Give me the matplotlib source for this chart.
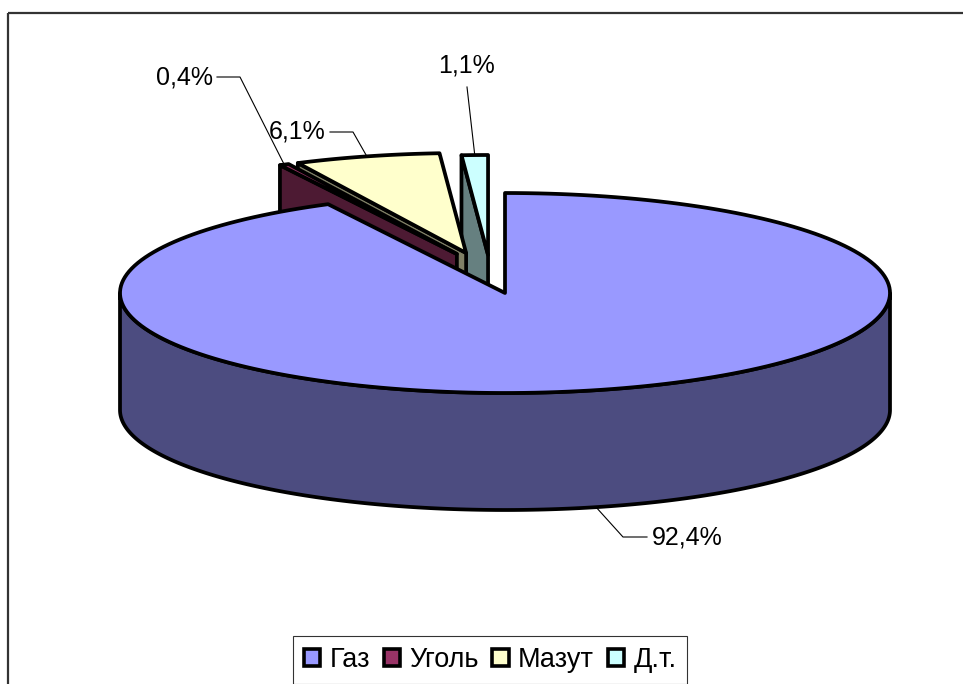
import numpy as np
import matplotlib
matplotlib.use("Agg")
import matplotlib.pyplot as plt
from matplotlib.patches import Polygon, Rectangle, Patch

plt.rcParams["font.family"] = ["Liberation Sans", "DejaVu Sans"]

# data
categories = ["Газ", "Уголь", "Мазут", "Д.т."]
shares = [92.4, 0.4, 6.1, 1.1]
labels = ["92,4%", "0,4%", "6,1%", "1,1%"]

# style
top_colors = ["#9999FF", "#993366", "#FFFFCC", "#CCFFFF"]
side_colors = ["#4C4C80", "#4D1A33", "#808066", "#668080"]
explode = [(0.0, 0.0), (-0.125, 0.39), (-0.101, 0.40), (-0.044, 0.38)]
draw_order = [3, 2, 1, 0]

W, H = 963, 684
CX, CY = 505, 293      # pie centre, pixels
RX, RY = 385, 100      # ellipse half axes
DEPTH = 117            # wall height
EDGE_LW = 2.7

# label layout (pixels): leader elbow and text position
label_elbow = [(623, 537), (240, 77), (353, 132), (467, 87)]
label_text = [(652, 538, "left"), (213, 77, "right"), (326, 132, "right"), (467, 65, "center")]


def proj(x, y, z, off):
    return CX + RX * (x + off[0]), CY - RY * (y + off[1]) + DEPTH * z


def arc(lo, hi, z, off, n=200):
    t = np.radians(np.linspace(lo, hi, n))
    xs, ys = proj(np.cos(t), np.sin(t), z, off)
    return np.column_stack([xs, ys])


fig = plt.figure(figsize=(W / 100, H / 100), dpi=100)
ax = fig.add_axes([0, 0, 1, 1])
ax.set_xlim(0, W)
ax.set_ylim(H, 0)
ax.axis("off")

# slice angles, clockwise from 12 o'clock
total = sum(shares)
cum = np.concatenate([[0], np.cumsum(shares)]) / total
spans = [(90 - 360 * cum[i + 1], 90 - 360 * cum[i]) for i in range(len(shares))]

poly_kw = dict(edgecolor="black", linewidth=EDGE_LW, joinstyle="round")

for i in draw_order:
    lo, hi = spans[i]
    off = explode[i]
    apex_top = proj(0, 0, 0, off)
    apex_bot = proj(0, 0, 1, off)

    # radial side faces facing the viewer
    for ang, visible in ((hi, np.cos(np.radians(hi)) < -1e-9),
                         (lo, np.cos(np.radians(lo)) > 1e-9)):
        if not visible:
            continue
        t = np.radians(ang)
        o_top = proj(np.cos(t), np.sin(t), 0, off)
        o_bot = proj(np.cos(t), np.sin(t), 1, off)
        ax.add_patch(Polygon([apex_top, o_top, o_bot, apex_bot],
                             facecolor=side_colors[i], **poly_kw))

    # outer wall, front part only
    for k in (-1, 0, 1):
        a0 = max(lo, -180 + 360 * k)
        a1 = min(hi, 0 + 360 * k)
        if a1 > a0:
            pts = np.vstack([arc(a0, a1, 0, off), arc(a0, a1, 1, off)[::-1]])
            ax.add_patch(Polygon(pts, facecolor=side_colors[i], **poly_kw))

    # top face
    pts = np.vstack([[apex_top], arc(lo, hi, 0, off)])
    ax.add_patch(Polygon(pts, facecolor=top_colors[i], **poly_kw))

# data labels with leader lines
for i in range(len(shares)):
    lo, hi = spans[i]
    mid = np.radians((lo + hi) / 2)
    z = 1 if np.sin(mid) < 0 else 0
    anchor = proj(np.cos(mid), np.sin(mid), z, explode[i])
    ex, ey = label_elbow[i]
    tx, ty, ha = label_text[i]
    xs = [anchor[0], ex]
    ys = [anchor[1], ey]
    if ha == "left":
        xs.append(tx - 5)
        ys.append(ey)
    elif ha == "right":
        xs.append(tx + 4)
        ys.append(ey)
    ax.plot(xs, ys, color="black", linewidth=0.8)
    ax.text(tx, ty, labels[i], ha=ha, va="center", fontsize=18)

# chart area frame
ax.add_patch(Rectangle((8, 13), 1000, 700, fill=False, edgecolor="#333333", linewidth=1.6))

handles = [Patch(facecolor=c, edgecolor="black", linewidth=2.6) for c in top_colors]
leg = fig.legend(handles, categories, loc="upper center", bbox_to_anchor=(0.509, 1 - 636 / H),
                 ncol=4, fontsize=19.5, frameon=True, fancybox=False, borderpad=0.4,
                 handlelength=0.6, handleheight=0.6, handletextpad=0.35,
                 columnspacing=0.5, borderaxespad=0)
leg.get_frame().set_edgecolor("black")
leg.get_frame().set_linewidth(0.8)

fig.savefig("out.png", dpi=100)
